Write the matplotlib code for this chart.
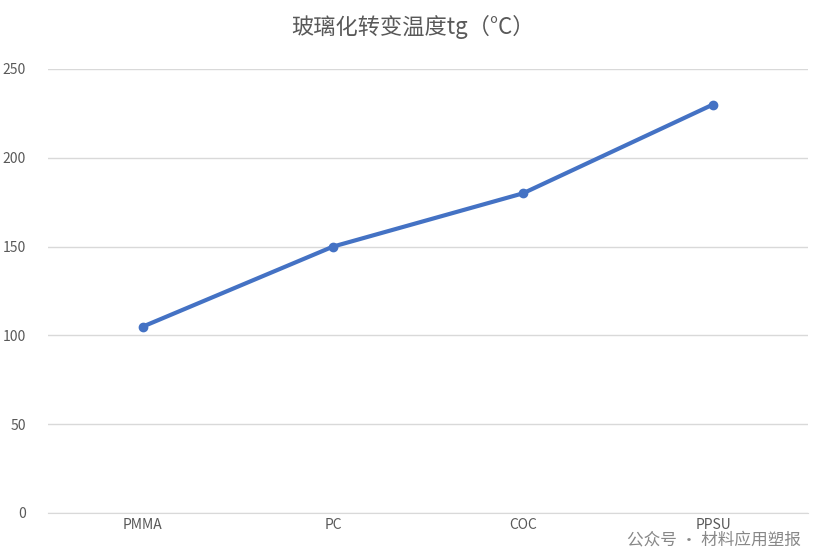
import matplotlib
matplotlib.use("Agg")
import matplotlib.pyplot as plt

categories = ["PMMA", "PC", "COC", "PPSU"]
values = [105, 150, 180, 230]
yticks = [0, 50, 100, 150, 200, 250]

plt.rcParams['font.family'] = ['Noto Sans CJK SC', 'DejaVu Sans']
fig = plt.figure(figsize=(8.26, 5.52), dpi=100)
ax = fig.add_axes([48/826, 1-513/552, 760/826, (513-69)/552])
x = [i + 0.5 for i in range(len(categories))]
ax.plot(x, values, color="#4472C4", lw=3, marker="o", ms=6)
ax.set_xlim(0, 4)
ax.set_ylim(0, 250)
ax.set_yticks(yticks)
ax.set_xticks(x)
ax.set_xticklabels(categories)
ax.grid(axis="y", color="#d9d9d9", lw=1)
ax.set_axisbelow(True)
for s in ["top", "right", "left"]:
    ax.spines[s].set_visible(False)
ax.spines["bottom"].set_color("#d9d9d9")
ax.tick_params(length=0, colors="#595959", labelsize=10)
ax.tick_params(axis="y", pad=16)
fig.text(0.5, 1-27/552, "玻璃化转变温度tg（°C）", ha="center", va="center", fontsize=16, color="#595959")
fig.text(0.97, 1-540/552, "公众号 · 材料应用塑报", ha="right", va="center", fontsize=12, color="#888888")
fig.savefig("out.png", dpi=100)
